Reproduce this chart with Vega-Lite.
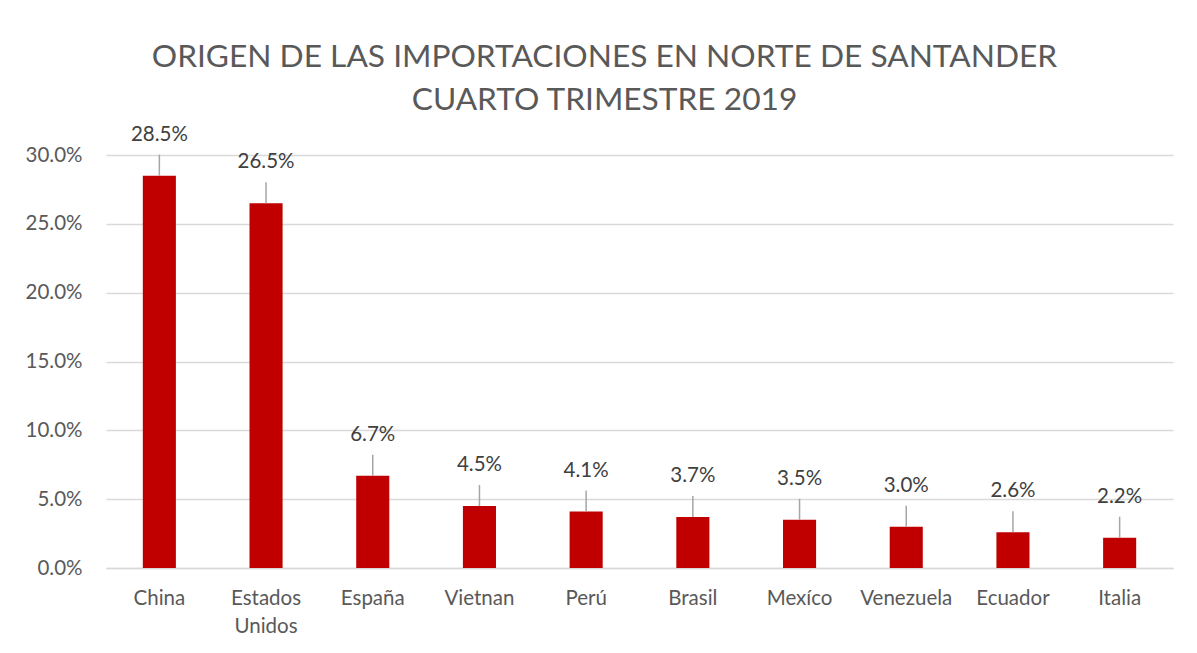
{
  "$schema": "https://vega.github.io/schema/vega-lite/v6.json",
  "width": 1067,
  "height": 413,
  "autosize": {"type": "none"},
  "padding": {"left": 106, "top": 155, "right": 24, "bottom": 85},
  "background": "white",
  "title": {
    "text": ["ORIGEN DE LAS IMPORTACIONES EN NORTE DE SANTANDER", "CUARTO TRIMESTRE 2019"],
    "font": "Lato",
    "fontSize": 31.7,
    "fontWeight": "normal",
    "color": "#595959",
    "anchor": "middle",
    "dx": -35,
    "lineHeight": 43,
    "offset": 8
  },
  "data": {
    "values": [
      {"pais": "China", "valor": 0.285},
      {"pais": "Estados Unidos", "valor": 0.265},
      {"pais": "España", "valor": 0.067},
      {"pais": "Vietnan", "valor": 0.045},
      {"pais": "Perú", "valor": 0.041},
      {"pais": "Brasil", "valor": 0.037},
      {"pais": "Mexíco", "valor": 0.035},
      {"pais": "Venezuela", "valor": 0.030},
      {"pais": "Ecuador", "valor": 0.026},
      {"pais": "Italia", "valor": 0.022}
    ]
  },
  "encoding": {
    "x": {
      "field": "pais",
      "type": "nominal",
      "sort": null,
      "scale": {"paddingInner": 0.69, "paddingOuter": 0.345},
      "axis": {
        "title": null,
        "labelAngle": 0,
        "labelFont": "Lato",
        "labelFontSize": 20.5,
        "labelColor": "#595959",
        "labelPadding": 20,
        "labelLineHeight": 28,
        "labelExpr": "datum.value == 'Estados Unidos' ? ['Estados', 'Unidos'] : datum.value",
        "ticks": false,
        "domainColor": "#D9D9D9",
        "domainWidth": 1.5,
        "grid": false
      }
    },
    "y": {
      "field": "valor",
      "type": "quantitative",
      "scale": {"domain": [0, 0.3], "nice": false},
      "axis": {
        "title": null,
        "format": ".1%",
        "values": [0, 0.05, 0.1, 0.15, 0.2, 0.25, 0.3],
        "labelFont": "Lato",
        "labelFontSize": 20.5,
        "labelColor": "#595959",
        "labelPadding": 24,
        "ticks": false,
        "domain": false,
        "grid": true,
        "gridColor": "#D9D9D9",
        "gridWidth": 1.5
      }
    }
  },
  "layer": [
    {
      "mark": {"type": "bar", "color": "#C00000"}
    },
    {
      "mark": {"type": "rule", "color": "#A6A6A6", "strokeWidth": 1.5, "y2Offset": -21},
      "encoding": {
        "y2": {"field": "valor"}
      }
    },
    {
      "mark": {"type": "text", "font": "Lato", "fontSize": 20.5, "color": "#404040", "baseline": "middle", "dy": -41},
      "encoding": {
        "text": {"field": "valor", "type": "quantitative", "format": ".1%"}
      }
    }
  ],
  "config": {
    "view": {"stroke": null}
  }
}
